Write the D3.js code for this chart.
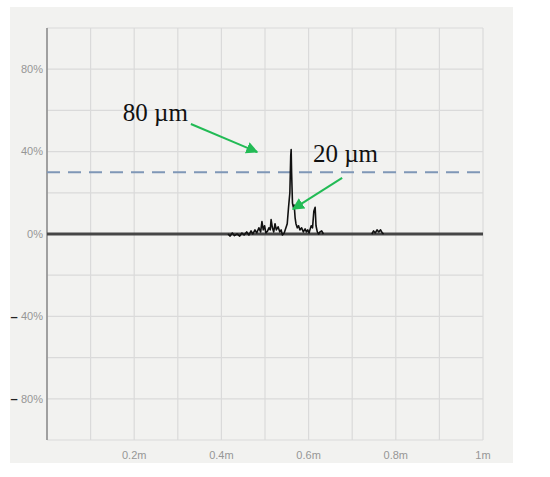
<!DOCTYPE html>
<html lang="en">
  <head>
    <meta charset="UTF-8" />
    <title>Signal trace</title>
    <script src="https://d3js.org/d3.v7.min.js"></script>
    <style>
      body { margin: 0; background: #ffffff; }
    </style>
  </head>
  <body>
    <div id="chart"></div>
    <script>
      // x in mm (0..1000 = 0..1m), y in %
      var traceX = [
        415, 420, 425, 430, 436, 442, 447, 452, 458, 463, 468, 472, 477, 481,
        486, 490, 493, 496, 499, 502, 506, 509, 512, 514, 517, 520, 523, 526,
        530, 534, 537, 540, 544, 548, 551, 554, 557, 559, 560, 561, 563, 565,
        567, 569, 571, 574, 577, 580, 584, 588, 592, 595, 598, 601, 603, 606,
        609, 612, 615, 617, 620, 623, 626, 630, 634
      ];
      var traceY = [
        0, -1, 0.5, -0.8, 0, -1, 0.5, -0.5, 1, -0.5, 1.5, 0, 2, 0.5,
        3, 1, 6, 2, 4, 0.5, 1.5, 3, 2, 7, 3, 1, 5, 2,
        3.5, 1, 2, -0.5, 0.5, 3, 5, 13, 20, 38, 41, 30, 15, 13,
        14, 8, 5, 3, 4, 2, 3, 1, 2.5, 1, 2, 0.5, 2, 4,
        3, 11, 13, 4, 1, 0, 1, 1.5, 0
      ];
      var bumpX = [745, 749, 753, 757, 761, 765, 769, 772];
      var bumpY = [0, 1.5, 0.5, 2, 1, 2, 0.5, 0];

      var thresholdY = 30;

      var xTicks = [200, 400, 600, 800, 1000];
      var xTickLabels = ["0.2m", "0.4m", "0.6m", "0.8m", "1m"];
      var yTicks = [80, 40, 0, -40, -80];

      var notes = ["80 \u00b5m", "20 \u00b5m"];
      var noteX = [174, 610];
      var noteY = [55, 35];
      var arrowFromX = [330, 677];
      var arrowFromY = [53.4, 27.2];
      var arrowToX = [482, 564];
      var arrowToY = [39.8, 12.1];

      var width = 550;
      var height = 477;

      var svg = d3
        .select("#chart")
        .append("svg")
        .attr("width", width)
        .attr("height", height);

      svg
        .append("rect")
        .attr("x", 10)
        .attr("y", 7)
        .attr("width", 503)
        .attr("height", 456)
        .attr("fill", "#f2f2f0");

      var x = d3.scaleLinear().domain([0, 1000]).range([47, 483]);
      var y = d3.scaleLinear().domain([-100, 100]).range([440, 28]);

      // grid
      var grid = svg.append("g");
      grid
        .selectAll("line.v")
        .data(d3.range(0, 1001, 100))
        .enter()
        .append("line")
        .attr("x1", function (d) { return x(d); })
        .attr("x2", function (d) { return x(d); })
        .attr("y1", y(100))
        .attr("y2", y(-100))
        .attr("stroke", "#dadada")
        .attr("stroke-width", 1.2);
      grid
        .selectAll("line.h")
        .data(d3.range(-100, 101, 20))
        .enter()
        .append("line")
        .attr("x1", x(0))
        .attr("x2", x(1000))
        .attr("y1", function (d) { return y(d); })
        .attr("y2", function (d) { return y(d); })
        .attr("stroke", "#dadada")
        .attr("stroke-width", 1.2);

      // left axis line
      svg
        .append("line")
        .attr("x1", x(0))
        .attr("x2", x(0))
        .attr("y1", y(100))
        .attr("y2", y(-100))
        .attr("stroke", "#8a8a8a")
        .attr("stroke-width", 1.5);

      // y tick labels
      svg
        .selectAll("text.ylab")
        .data(yTicks)
        .enter()
        .append("text")
        .attr("x", 43)
        .attr("y", function (d) { return y(d); })
        .attr("dy", "0.35em")
        .attr("text-anchor", "end")
        .style("font-family", "'Liberation Sans', Arial, sans-serif")
        .style("font-size", "11px")
        .style("fill", "#969696")
        .text(function (d) { return Math.abs(d) + "%"; });

      // the minus signs are drawn darker, at the panel edge
      svg
        .selectAll("text.minus")
        .data(yTicks.filter(function (d) { return d < 0; }))
        .enter()
        .append("text")
        .attr("x", 14)
        .attr("y", function (d) { return y(d); })
        .attr("dy", "0.35em")
        .attr("text-anchor", "middle")
        .style("font-family", "'Liberation Sans', Arial, sans-serif")
        .style("font-size", "13px")
        .style("font-weight", "bold")
        .style("fill", "#222")
        .text("\u2013");

      // x tick labels
      svg
        .selectAll("text.xlab")
        .data(xTicks)
        .enter()
        .append("text")
        .attr("x", function (d) { return x(d); })
        .attr("y", 459)
        .attr("text-anchor", "middle")
        .style("font-family", "'Liberation Sans', Arial, sans-serif")
        .style("font-size", "11px")
        .style("fill", "#969696")
        .text(function (d, i) { return xTickLabels[i]; });

      // threshold
      svg
        .append("line")
        .attr("x1", x(0))
        .attr("x2", x(1000))
        .attr("y1", y(thresholdY))
        .attr("y2", y(thresholdY))
        .attr("stroke", "#7f97b6")
        .attr("stroke-width", 2)
        .attr("stroke-dasharray", "13,8");

      // baseline
      svg
        .append("line")
        .attr("x1", x(0))
        .attr("x2", x(1000))
        .attr("y1", y(0))
        .attr("y2", y(0))
        .attr("stroke", "#464646")
        .attr("stroke-width", 2.8);

      var line = d3
        .line()
        .x(function (d) { return x(d[0]); })
        .y(function (d) { return y(d[1]); });

      var trace = traceX.map(function (d, i) { return [d, traceY[i]]; });
      var bump = bumpX.map(function (d, i) { return [d, bumpY[i]]; });

      [trace, bump].forEach(function (s) {
        svg
          .append("path")
          .datum(s)
          .attr("fill", "none")
          .attr("stroke", "#111")
          .attr("stroke-width", 1.6)
          .attr("stroke-linejoin", "round")
          .attr("d", line);
      });

      // annotations
      svg
        .append("defs")
        .append("marker")
        .attr("id", "arrow")
        .attr("viewBox", "0 0 10 10")
        .attr("refX", 9)
        .attr("refY", 5)
        .attr("markerWidth", 6)
        .attr("markerHeight", 6)
        .attr("orient", "auto")
        .append("path")
        .attr("d", "M0,0L10,5L0,10Z")
        .attr("fill", "#22bb55");

      notes.forEach(function (t, i) {
        svg
          .append("line")
          .attr("x1", x(arrowFromX[i]))
          .attr("y1", y(arrowFromY[i]))
          .attr("x2", x(arrowToX[i]))
          .attr("y2", y(arrowToY[i]))
          .attr("stroke", "#22bb55")
          .attr("stroke-width", 2)
          .attr("marker-end", "url(#arrow)");
        svg
          .append("text")
          .attr("x", x(noteX[i]))
          .attr("y", y(noteY[i]))
          .style("font-family", "'Liberation Serif', 'Times New Roman', serif")
          .style("font-size", "25px")
          .style("fill", "#111")
          .text(t);
      });
    </script>
  </body>
</html>
